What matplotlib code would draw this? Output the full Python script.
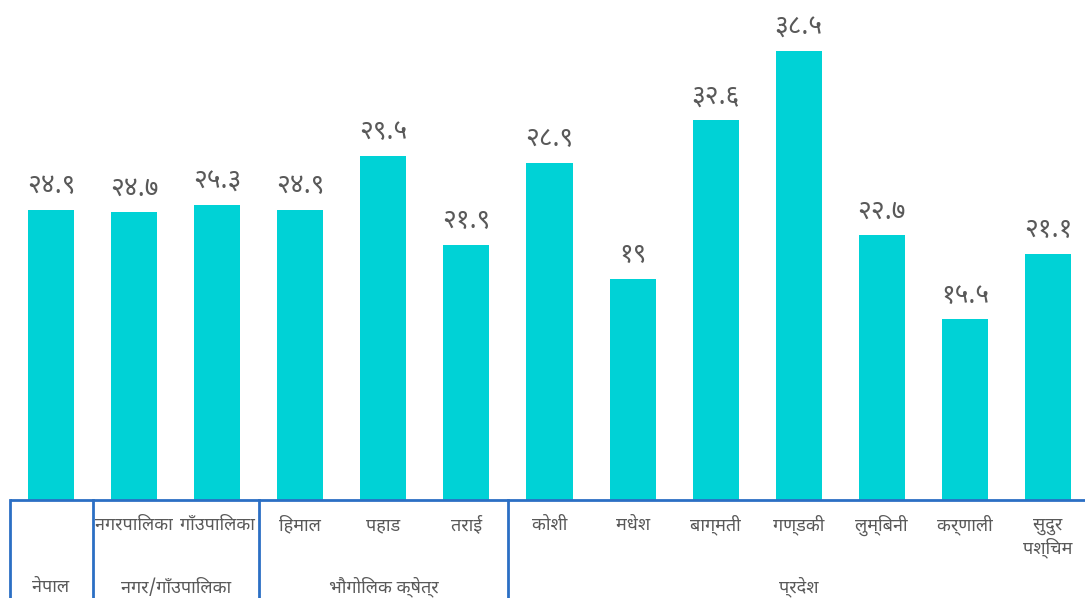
import matplotlib
matplotlib.use("Agg")
import matplotlib.pyplot as plt
import matplotlib.transforms as mtransforms
from matplotlib import font_manager as fm

# ---- data -------------------------------------------------------------
categories = ["नेपाल", "नगरपालिका", "गाँउपालिका", "हिमाल", "पहाड", "तराई",
              "कोशी", "मधेश", "बाग्मती", "गण्डकी", "लुम्बिनी", "कर्णाली",
              "सुदुर\nपश्चिम"]
values = [24.9, 24.7, 25.3, 24.9, 29.5, 21.9, 28.9, 19.0, 32.6, 38.5,
          22.7, 15.5, 21.1]
value_labels = ["२४.९", "२४.७", "२५.३", "२४.९", "२९.५", "२१.९", "२८.९",
                "१९", "३२.६", "३८.५", "२२.७", "१५.५", "२१.१"]
# groups: (label, first index, last index)
groups = [("नेपाल", 0, 0), ("नगर/गाँउपालिका", 1, 2),
          ("भौगोलिक क्षेत्र", 3, 5), ("प्रदेश", 6, 12)]

BAR_COLOR = "#00D2D6"
LINE_COLOR = "#2B6FC4"
TEXT_COLOR = "#595959"


def pick_font():
    for name in ["Noto Sans Devanagari", "Mukta", "Hind", "Sarala"]:
        try:
            fm.findfont(fm.FontProperties(family=name),
                        fallback_to_default=False)
            return name
        except Exception:
            continue
    return "DejaVu Sans"


FONT = pick_font()
plt.rcParams["font.family"] = [FONT, "DejaVu Sans"]


def visual(s):
    """Place the short-i sign before its consonant (no shaping engine)."""
    out = []
    for c in s:
        if c == "\u093f" and out:
            prev = out.pop()
            out.append(c)
            out.append(prev)
        else:
            out.append(c)
    return "".join(out)


fig = plt.figure(figsize=(10.85, 5.98), dpi=100)
W, H = 1085, 598
left_px, right_px = 9.5, 1089.5
base_px = 500
ax = fig.add_axes([left_px / W, (H - base_px) / H,
                   (right_px - left_px) / W, base_px / H])

x = list(range(len(values)))
ax.bar(x, values, width=0.555, color=BAR_COLOR, zorder=2)
ax.set_xlim(-0.5, len(values) - 0.5)
ax.set_ylim(0, 42.9)
ax.axis("off")

for xi, v, lab in zip(x, values, value_labels):
    ax.annotate(lab, (xi, v), xytext=(0, 7), textcoords="offset points",
                ha="center", va="bottom", fontsize=19, color=TEXT_COLOR)

trans = mtransforms.blended_transform_factory(ax.transData, ax.transAxes)

# baseline
ax.plot([-0.5, len(values) - 0.5], [0, 0], transform=trans,
        color=LINE_COLOR, lw=2, clip_on=False, zorder=3,
        solid_capstyle="butt")

# group separators
seps = [g[1] - 0.5 for g in groups] + [len(values) - 0.5]
for s in seps:
    ax.plot([s, s], [0, -0.3], transform=trans, color=LINE_COLOR, lw=2,
            clip_on=False, zorder=3)

# category labels
for xi, cat in zip(x, categories):
    if xi == 0:
        continue
    ypos = -0.05 if "\n" not in cat else -0.075
    ax.text(xi, ypos, visual(cat), transform=trans, ha="center",
            va="center", fontsize=13, color=TEXT_COLOR, linespacing=1.15)

# group labels
for lab, a, b in groups:
    ax.text((a + b) / 2, -0.174, visual(lab), transform=trans,
            ha="center", va="center", fontsize=13, color=TEXT_COLOR)

fig.savefig("out.png", dpi=100)
